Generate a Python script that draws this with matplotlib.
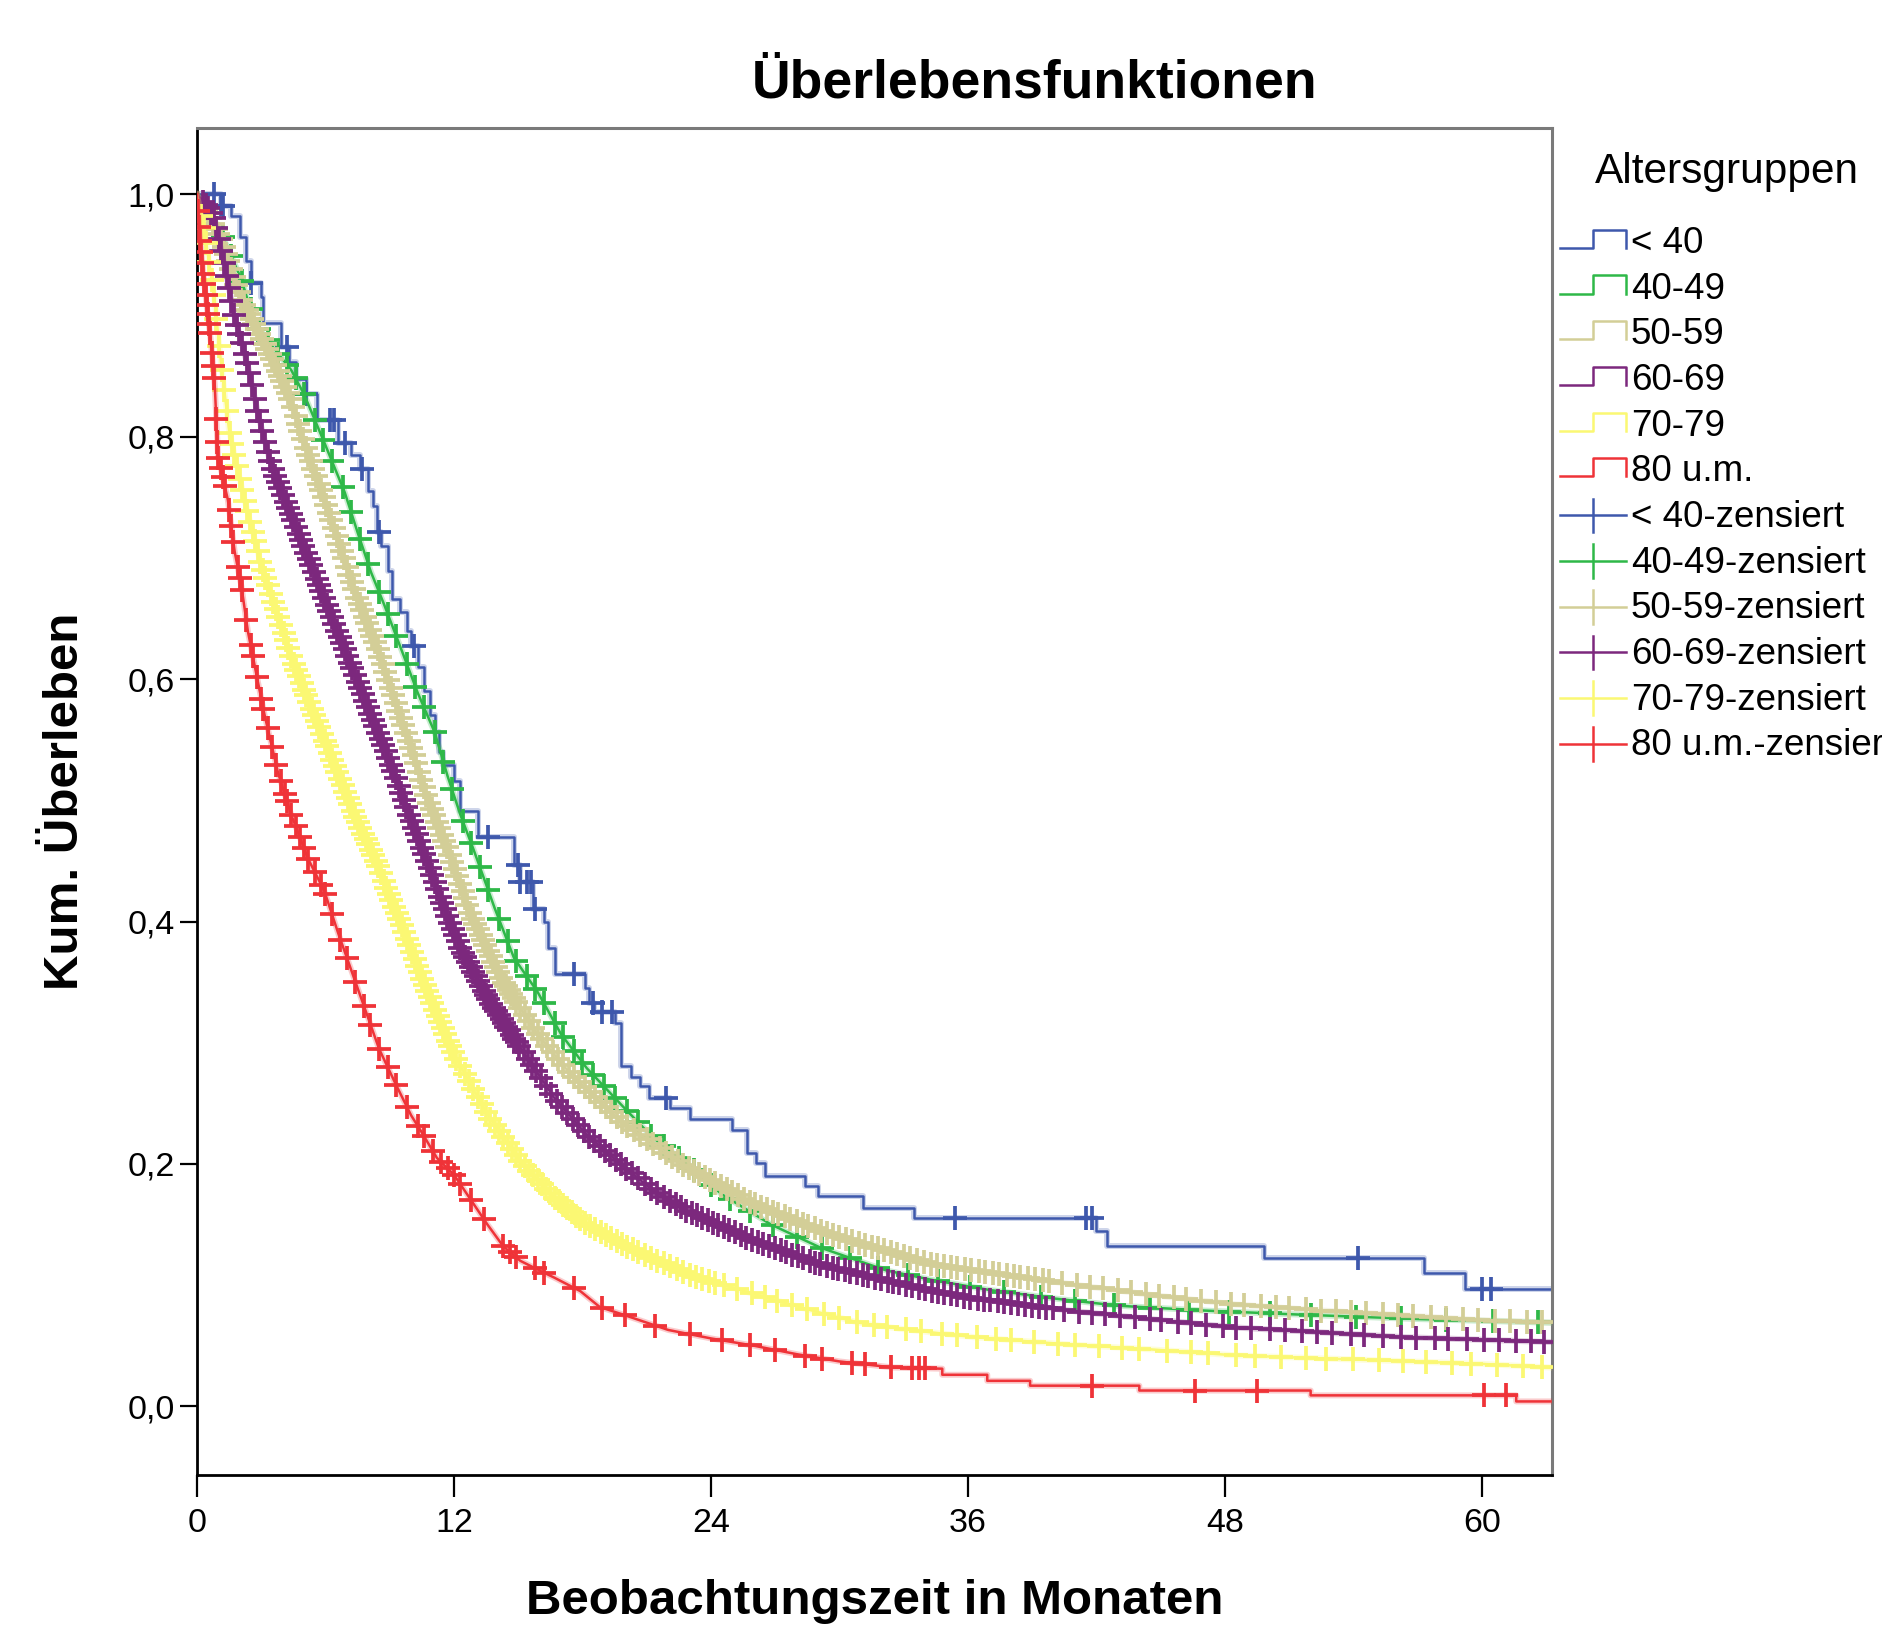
import numpy as np
import matplotlib
matplotlib.use('Agg')
import matplotlib.pyplot as plt
from matplotlib.lines import Line2D
from matplotlib.legend_handler import HandlerBase

plt.rcParams['font.family'] = ['Liberation Sans', 'DejaVu Sans']

# Kaplan-Meier curves (months, cumulative survival)
# < 40 (drawn as steps)
t_lt40 = [0, 1.1, 1.6, 2.0, 2.3, 2.5, 3.0, 3.1, 3.9, 4.3, 4.6, 5.1, 5.6, 6.6, 7.2, 7.6,
          8.0, 8.2, 8.4, 8.6, 8.9, 9.1, 9.5, 9.8, 10.0, 10.3, 10.6, 10.9, 11.1, 11.3, 11.5,
          12.0, 12.3, 13.1, 14.8, 15.1, 15.7, 16.2, 16.4, 16.7, 18.1, 18.3, 18.55, 19.5,
          19.8, 20.25, 20.7, 21.1, 22.1, 23.0, 25.0, 25.7, 26.1, 26.5, 28.4, 29.0, 31.1,
          33.5, 42.0, 42.5, 49.8, 57.3, 59.2, 63.2]
s_lt40 = [1.0, 0.99, 0.982, 0.965, 0.945, 0.927, 0.915, 0.894, 0.874, 0.862, 0.848, 0.835,
          0.814, 0.795, 0.785, 0.773, 0.755, 0.743, 0.721, 0.71, 0.689, 0.666, 0.655, 0.64,
          0.627, 0.61, 0.59, 0.57, 0.556, 0.54, 0.529, 0.516, 0.491, 0.47, 0.447, 0.433,
          0.41, 0.40, 0.378, 0.357, 0.345, 0.333, 0.325, 0.316, 0.281, 0.272, 0.264, 0.254,
          0.246, 0.237, 0.228, 0.209, 0.201, 0.19, 0.182, 0.1735, 0.164, 0.155, 0.145,
          0.132, 0.122, 0.11, 0.097, 0.097]
c_lt40 = [0.8, 1.1, 1.2, 2.5, 4.2, 5.1, 6.2, 6.4, 6.9, 7.7, 8.5, 10.15, 13.6, 15.0, 15.1,
          15.4, 15.6, 15.8, 17.6, 18.5, 18.9, 19.4, 21.9, 35.4, 41.5, 41.8, 54.2, 60.0, 60.4]

# 40-49
t_4049 = [0, 0.5, 1.2, 2.07, 2.69, 3.5, 4.4, 5.0, 5.95, 6.9, 7.5, 8.13, 8.75, 9.53, 10.3,
          11.1, 11.7, 12.3, 12.9, 13.9, 14.8, 15.9, 17.0, 18.2, 19.8, 21.3, 22.9, 24.5,
          26.8, 29.1, 32.2, 34.4, 37, 40, 43, 47, 51, 57, 63.2]
s_4049 = [1.0, 0.99, 0.965, 0.93, 0.894, 0.875, 0.855, 0.835, 0.795, 0.754, 0.721, 0.688,
          0.661, 0.625, 0.589, 0.556, 0.52, 0.488, 0.46, 0.411, 0.37, 0.342, 0.307, 0.279,
          0.249, 0.2215, 0.1996, 0.175, 0.150, 0.131, 0.112, 0.104, 0.096, 0.089, 0.083,
          0.079, 0.076, 0.072, 0.069]
c_4049 = [1.2, 1.6, 2.1, 2.5, 2.9, 3.3, 3.8, 4.2, 4.6, 5.0, 5.5, 5.9, 6.3, 6.8, 7.2, 7.6,
          8.0, 8.5, 8.9, 9.3, 9.8, 10.2, 10.6, 11.1, 11.5, 11.9, 12.4, 12.8, 13.2, 13.6,
          14.1, 14.5, 14.9, 15.4, 15.8, 16.2, 16.7, 17.1, 17.6, 18.0, 18.5, 19.0, 19.5,
          20.1, 20.6, 21.2, 21.8, 22.5, 23.2, 24.0, 24.9, 25.8, 26.9, 28.0, 29.2, 30.5,
          31.8, 33.2, 34.6, 36.1, 37.7, 39.4, 41.0, 42.8, 44.5, 46.3, 48.2, 50.1, 52.0,
          54.1, 56.2, 58.3, 60.5, 62.6]

# 50-59
t_5059 = [0, 0.5, 1.14, 2.07, 3.3, 4.3, 5.0, 5.95, 6.73, 7.5, 8.44, 9.2, 10.0, 10.77, 11.7,
          12.8, 14.3, 15.9, 17.45, 19.8, 22.9, 26.0, 29.1, 32.2, 34.4, 36.3, 40.7, 44.5,
          48.5, 52.5, 56.4, 60, 63.2]
s_5059 = [1.0, 0.985, 0.962, 0.913, 0.872, 0.834, 0.795, 0.748, 0.707, 0.666, 0.625, 0.584,
          0.543, 0.501, 0.46, 0.405, 0.35, 0.307, 0.274, 0.235, 0.197, 0.167, 0.145, 0.128,
          0.117, 0.112, 0.101, 0.092, 0.084, 0.079, 0.075, 0.071, 0.069]
c_5059 = [0.40, 0.51, 0.63, 0.76, 0.88, 0.99, 1.11, 1.24, 1.36, 1.47, 1.59, 1.72, 1.84,
          1.95, 2.07, 2.20, 2.32, 2.43, 2.55, 2.68, 2.80, 2.91, 3.03, 3.16, 3.28, 3.39,
          3.51, 3.64, 3.76, 3.87, 3.99, 4.12, 4.24, 4.35, 4.47, 4.60, 4.72, 4.83, 4.95,
          5.08, 5.20, 5.31, 5.43, 5.56, 5.68, 5.79, 5.91, 6.04, 6.16, 6.27, 6.39, 6.52,
          6.64, 6.75, 6.87, 7.00, 7.12, 7.23, 7.35, 7.48, 7.60, 7.71, 7.83, 7.96, 8.08,
          8.19, 8.31, 8.44, 8.56, 8.67, 8.79, 8.92, 9.04, 9.15, 9.27, 9.40, 9.52, 9.63,
          9.75, 9.88, 10.00, 10.11, 10.23, 10.36, 10.48, 10.59, 10.71, 10.84, 10.96, 11.07,
          11.19, 11.32, 11.44, 11.55, 11.67, 11.80, 11.92, 12.03, 12.15, 12.28, 12.40,
          12.51, 12.63, 12.76, 12.88, 12.99, 13.11, 13.24, 13.36, 13.47, 13.59, 13.72,
          13.84, 13.95, 14.07, 14.20, 14.32, 14.43, 14.55, 14.68, 14.80, 14.91, 15.1, 15.3,
          15.5, 15.7, 15.9, 16.1, 16.35, 16.6, 16.85, 17.1, 17.35, 17.6, 17.85, 18.1,
          18.35, 18.6, 18.85, 19.1, 19.35, 19.6, 19.85, 20.1, 20.4, 20.7, 21.0, 21.3, 21.6,
          21.9, 22.2, 22.45, 22.7, 22.95, 23.2, 23.45, 23.7, 23.95, 24.2, 24.45, 24.75,
          25.0, 25.25, 25.55, 25.8, 26.05, 26.35, 26.6, 26.9, 27.15, 27.45, 27.7, 28.0,
          28.3, 28.55, 28.85, 29.15, 29.4, 29.7, 30.0, 30.3, 30.6, 30.9, 31.2, 31.5, 31.8,
          32.1, 32.4, 32.7, 33.0, 33.3, 33.6, 33.95, 34.25, 34.55, 34.9, 35.2, 35.5, 35.85,
          36.15, 36.5, 36.8, 37.15, 37.45, 37.8, 38.15, 38.45, 38.8, 39.15, 39.5, 39.8,
          40.4, 41.1, 41.7, 42.3, 43.0, 43.6, 44.3, 44.9, 45.6, 46.2, 46.9, 47.6, 48.3,
          48.9, 49.7, 50.4, 51.0, 51.8, 52.5, 53.2, 53.9, 54.6, 55.4, 56.1, 56.8, 57.6,
          58.3, 59.1, 59.8, 60.6, 61.3, 62.1, 62.8]

# 60-69
t_6069 = [0, 0.5, 0.8, 1.3, 1.76, 2.38, 2.9, 3.47, 4.4, 5.33, 6.27, 7.2, 8.13, 9.07, 9.9,
          10.8, 11.3, 12.3, 13.56, 15.1, 16.7, 18.2, 19.8, 21.3, 22.9, 26.0, 29.1, 32.2,
          34.4, 36.3, 40.7, 44.5, 48.5, 52.5, 56.4, 63.2]
s_6069 = [1.0, 0.99, 0.98, 0.94, 0.899, 0.858, 0.815, 0.776, 0.735, 0.694, 0.652, 0.611,
          0.570, 0.529, 0.488, 0.447, 0.422, 0.378, 0.337, 0.296, 0.254, 0.224, 0.1996,
          0.178, 0.161, 0.1365, 0.117, 0.1037, 0.095, 0.089, 0.079, 0.072, 0.065, 0.061,
          0.057, 0.053]
c_6069 = [0.30, 0.42, 0.53, 0.65, 0.78, 0.90, 1.01, 1.13, 1.26, 1.38, 1.49, 1.61, 1.74,
          1.86, 1.97, 2.09, 2.22, 2.34, 2.45, 2.57, 2.70, 2.82, 2.93, 3.05, 3.18, 3.30,
          3.41, 3.53, 3.66, 3.78, 3.89, 4.01, 4.14, 4.26, 4.37, 4.49, 4.62, 4.74, 4.85,
          4.97, 5.10, 5.22, 5.33, 5.45, 5.58, 5.70, 5.81, 5.93, 6.06, 6.18, 6.29, 6.41,
          6.54, 6.66, 6.77, 6.89, 7.02, 7.14, 7.25, 7.37, 7.50, 7.62, 7.73, 7.85, 7.98,
          8.10, 8.21, 8.33, 8.46, 8.58, 8.69, 8.81, 8.94, 9.06, 9.17, 9.29, 9.42, 9.54,
          9.65, 9.77, 9.90, 10.02, 10.13, 10.25, 10.38, 10.50, 10.61, 10.73, 10.86, 10.98,
          11.09, 11.21, 11.34, 11.46, 11.57, 11.69, 11.82, 11.94, 12.05, 12.17, 12.30,
          12.42, 12.53, 12.65, 12.78, 12.90, 13.01, 13.13, 13.26, 13.38, 13.49, 13.61,
          13.74, 13.86, 13.97, 14.09, 14.22, 14.34, 14.45, 14.57, 14.70, 14.82, 14.93,
          15.05, 15.25, 15.45, 15.65, 15.85, 16.05, 16.3, 16.55, 16.8, 17.05, 17.3, 17.55,
          17.8, 18.05, 18.3, 18.55, 18.8, 19.05, 19.3, 19.55, 19.8, 20.05, 20.3, 20.6,
          20.9, 21.2, 21.5, 21.8, 22.1, 22.35, 22.6, 22.85, 23.1, 23.35, 23.6, 23.85, 24.1,
          24.35, 24.6, 24.85, 25.1, 25.4, 25.65, 25.9, 26.2, 26.45, 26.7, 27.0, 27.25,
          27.5, 27.8, 28.05, 28.3, 28.6, 28.85, 29.1, 29.4, 29.7, 29.95, 30.25, 30.5, 30.8,
          31.1, 31.35, 31.65, 31.95, 32.25, 32.5, 32.8, 33.1, 33.4, 33.7, 34.0, 34.3, 34.6,
          34.9, 35.2, 35.5, 35.8, 36.1, 36.45, 36.75, 37.05, 37.4, 37.7, 38.0, 38.35,
          38.65, 39.0, 39.3, 39.65, 39.95, 40.5, 41.2, 41.8, 42.4, 43.1, 43.8, 44.5, 45.0,
          45.8, 46.4, 47.1, 47.9, 48.5, 49.2, 50.1, 50.8, 51.6, 52.3, 53.0, 53.9, 54.5,
          55.4, 56.2, 56.9, 57.8, 58.4, 59.3, 60.1, 60.8, 61.6, 62.3, 62.9]

# 70-79
t_7079 = [0, 0.36, 0.82, 1.14, 1.5, 2.22, 3.0, 3.78, 4.55, 5.49, 6.42, 7.35, 8.44, 8.9, 9.6,
          10.46, 12.0, 13.56, 15.1, 16.7, 18.2, 19.8, 22.9, 26.0, 28.5, 30.9, 32.8, 36.3,
          40.7, 44.5, 48.5, 55, 60, 63.2]
s_7079 = [1.0, 0.968, 0.913, 0.858, 0.805, 0.748, 0.694, 0.652, 0.611, 0.570, 0.529, 0.488,
          0.447, 0.425, 0.395, 0.355, 0.29, 0.241, 0.202, 0.172, 0.150, 0.134, 0.109,
          0.0926, 0.08, 0.069, 0.064, 0.057, 0.051, 0.047, 0.042, 0.038, 0.035, 0.032]
c_7079 = [0.20, 0.31, 0.43, 0.56, 0.68, 0.79, 0.91, 1.04, 1.16, 1.27, 1.39, 1.52, 1.64,
          1.75, 1.87, 2.00, 2.12, 2.23, 2.35, 2.48, 2.60, 2.71, 2.83, 2.96, 3.08, 3.19,
          3.31, 3.44, 3.56, 3.67, 3.79, 3.92, 4.04, 4.15, 4.27, 4.40, 4.52, 4.63, 4.75,
          4.88, 5.00, 5.11, 5.23, 5.36, 5.48, 5.59, 5.71, 5.84, 5.96, 6.07, 6.19, 6.32,
          6.44, 6.55, 6.67, 6.80, 6.92, 7.03, 7.15, 7.28, 7.40, 7.51, 7.63, 7.76, 7.88,
          7.99, 8.11, 8.24, 8.36, 8.47, 8.59, 8.72, 8.84, 8.95, 9.07, 9.20, 9.32, 9.43,
          9.55, 9.68, 9.80, 9.91, 10.03, 10.16, 10.28, 10.39, 10.51, 10.64, 10.76, 10.87,
          10.99, 11.12, 11.24, 11.35, 11.47, 11.60, 11.72, 11.83, 11.95, 12.1, 12.3, 12.5,
          12.7, 12.9, 13.1, 13.3, 13.5, 13.7, 13.9, 14.1, 14.3, 14.5, 14.7, 14.9, 15.1,
          15.3, 15.5, 15.7, 15.9, 16.1, 16.3, 16.5, 16.7, 16.9, 17.1, 17.3, 17.5, 17.7,
          17.9, 18.1, 18.35, 18.6, 18.85, 19.1, 19.35, 19.6, 19.85, 20.1, 20.35, 20.6,
          20.9, 21.2, 21.5, 21.8, 22.1, 22.4, 22.7, 23.0, 23.3, 23.6, 23.9, 24.2, 24.6,
          25.2, 25.9, 26.5, 27.1, 27.8, 28.5, 29.3, 30.0, 30.8, 31.6, 32.2, 33.1, 33.8,
          34.8, 35.5, 36.4, 37.3, 38.0, 39.1, 40.2, 41.0, 42.1, 43.2, 44.0, 45.3, 46.4,
          47.2, 48.5, 49.4, 50.6, 51.8, 52.7, 54.0, 55.2, 56.3, 57.4, 58.6, 59.5, 60.7,
          61.9, 62.8]

# 80 u.m. (late part has visible steps, given as paired points)
t_80 = [0, 0.13, 0.28, 0.44, 0.67, 0.83, 0.98, 1.44, 1.76, 2.07, 2.38, 2.84, 3.16, 3.78,
        4.4, 5.18, 5.95, 6.6, 7.2, 7.8, 8.5, 9.3, 10.0, 10.46, 11.2, 12.0, 12.8, 13.56,
        14.3, 15.1, 16.0, 16.7, 17.9, 18.8, 20.0, 22.0, 24.0, 26.0, 28.0, 30.0, 32.5,
        34.8, 34.8, 36.9, 36.9, 38.9, 38.9, 44.0, 44.0, 52.0, 52.0, 61.6, 61.6, 63.2]
s_80 = [1.0, 0.965, 0.938, 0.91, 0.875, 0.842, 0.784, 0.748, 0.705, 0.677, 0.639, 0.598,
        0.57, 0.523, 0.488, 0.452, 0.425, 0.39, 0.36, 0.33, 0.295, 0.265, 0.24, 0.227,
        0.205, 0.191, 0.17, 0.150, 0.132, 0.12, 0.112, 0.106, 0.095, 0.082, 0.075, 0.063,
        0.056, 0.05, 0.043, 0.037, 0.032, 0.031, 0.026, 0.026, 0.021, 0.021, 0.017, 0.017,
        0.013, 0.013, 0.009, 0.009, 0.004, 0.004]
c_80 = [0.05, 0.1, 0.15, 0.2, 0.25, 0.3, 0.35, 0.4, 0.45, 0.5, 0.55, 0.6, 0.7, 0.75, 0.8,
        0.9, 0.95, 1.0, 1.1, 1.2, 1.3, 1.5, 1.6, 1.7, 1.9, 2.0, 2.1, 2.3, 2.5, 2.6, 2.8,
        3.0, 3.1, 3.3, 3.5, 3.7, 3.9, 4.1, 4.2, 4.4, 4.6, 4.8, 5.0, 5.2, 5.5, 5.8, 6.0,
        6.3, 6.7, 7.0, 7.4, 7.8, 8.1, 8.5, 8.9, 9.3, 9.8, 10.3, 10.6, 11.0, 11.4, 11.7,
        12.0, 12.3, 12.8, 13.4, 14.3, 14.6, 14.9, 15.8, 16.2, 17.6, 18.9, 20.0, 21.4,
        23.0, 24.5, 25.8, 27.0, 28.4, 29.2, 30.6, 31.2, 32.4, 33.4, 33.7, 34.0, 41.8,
        46.6, 49.5, 60.1, 61.1]

labels = ['< 40', '40-49', '50-59', '60-69', '70-79', '80 u.m.']
colors = ['#3E58AC', '#2EB848', '#D3CE97', '#7C287D', '#FBF873', '#EF3338']
times = [t_lt40, t_4049, t_5059, t_6069, t_7079, t_80]
survs = [s_lt40, s_4049, s_5059, s_6069, s_7079, s_80]
cens = [c_lt40, c_4049, c_5059, c_6069, c_7079, c_80]
stepped = [True, False, False, False, False, False]

x_ticks = [0, 12, 24, 36, 48, 60]
y_ticks = [0.0, 0.2, 0.4, 0.6, 0.8, 1.0]

LW = 1.8
MS = 17
MEW = 2.7

W, H = 1882, 1628
fig = plt.figure(figsize=(W / 100, H / 100), dpi=100)
ax = fig.add_axes([197 / W, 1 - 1475 / H, (1552 - 197) / W, (1475 - 127.7) / H])

for i in range(len(labels)):
    tt = np.asarray(times[i], dtype=float)
    ss = np.asarray(survs[i], dtype=float)
    cc = np.asarray(cens[i], dtype=float)
    z = 2 + i
    if stepped[i]:
        # soft halo under the line, as in the original rendering
        ax.step(tt, ss, where='post', color=colors[i], lw=LW * 2.4, alpha=0.25, zorder=z)
        ax.step(tt, ss, where='post', color=colors[i], lw=LW, zorder=z)
        idx = np.searchsorted(tt, cc, side='right') - 1
        cy = ss[idx]
    else:
        ax.plot(tt, ss, color=colors[i], lw=LW * 2.4, alpha=0.25, zorder=z)
        ax.plot(tt, ss, color=colors[i], lw=LW, zorder=z)
        cy = np.interp(cc, tt, ss)
    ax.plot(cc, cy, ls='none', marker='+', ms=MS, mew=MEW, color=colors[i], zorder=z)

ax.set_xlim(0, 63.27)
ax.set_ylim(-0.0567, 1.055)
ax.set_xticks(x_ticks)
ax.set_xticklabels([str(v) for v in x_ticks])
ax.set_yticks(y_ticks)
ax.set_yticklabels([f'{v:.1f}'.replace('.', ',') for v in y_ticks])
ax.tick_params(axis='y', direction='out', length=12, width=1.6, pad=4, labelsize=24.5)
ax.tick_params(axis='x', direction='out', length=16, width=1.6, pad=8, labelsize=24.5)

for side in ['left', 'bottom']:
    ax.spines[side].set_color('black')
    ax.spines[side].set_linewidth(2.0)
for side in ['top', 'right']:
    ax.spines[side].set_color('#7a7a7a')
    ax.spines[side].set_linewidth(2.2)

fig.text(1035 / W, 1 - 84 / H, 'Überlebensfunktionen', ha='center', va='center',
         fontsize=38.5, fontweight='bold')
fig.text(874.5 / W, 1 - 1602 / H, 'Beobachtungszeit in Monaten', ha='center', va='center',
         fontsize=35.5, fontweight='bold')
fig.text(66 / W, 1 - 801 / H, 'Kum. Überleben', ha='center', va='center', rotation=90,
         fontsize=35.5, fontweight='bold')


class StepHandler(HandlerBase):
    def create_artists(self, legend, orig_handle, xdescent, ydescent, width, height,
                       fontsize, trans):
        x0, y0 = -xdescent, -ydescent
        xs = [x0, x0 + 0.5 * width, x0 + 0.5 * width, x0 + width, x0 + width]
        ys = [y0 + 0.2 * height, y0 + 0.2 * height, y0 + 0.9 * height,
              y0 + 0.9 * height, y0 + 0.2 * height]
        return [Line2D(xs, ys, color=orig_handle.get_color(), lw=LW, transform=trans)]


class CensHandler(HandlerBase):
    def create_artists(self, legend, orig_handle, xdescent, ydescent, width, height,
                       fontsize, trans):
        x0, y0 = -xdescent, -ydescent
        ym = y0 + 0.45 * height
        hline = Line2D([x0, x0 + width], [ym, ym], color=orig_handle.get_color(), lw=LW,
                       transform=trans)
        vline = Line2D([x0 + 0.5 * width] * 2, [ym - 0.65 * height, ym + 0.65 * height],
                       color=orig_handle.get_color(), lw=LW, transform=trans)
        return [hline, vline]


step_handles = [Line2D([], [], color=c) for c in colors]
cens_handles = [Line2D([], [], color=c) for c in colors]
hmap = {h: StepHandler() for h in step_handles}
hmap.update({h: CensHandler() for h in cens_handles})

fig.text(1727 / W, 1 - 172 / H, 'Altersgruppen', ha='center', va='center', fontsize=30.5)
ax.legend(step_handles + cens_handles, labels + [l + '-zensiert' for l in labels],
          handler_map=hmap, loc='upper left', bbox_to_anchor=(1560 / W, 1 - 226 / H),
          bbox_transform=fig.transFigure, frameon=False, fontsize=26.5,
          handlelength=1.8, handletextpad=0.12, labelspacing=0.29, borderpad=0,
          borderaxespad=0)

fig.savefig('out.png', dpi=100)
